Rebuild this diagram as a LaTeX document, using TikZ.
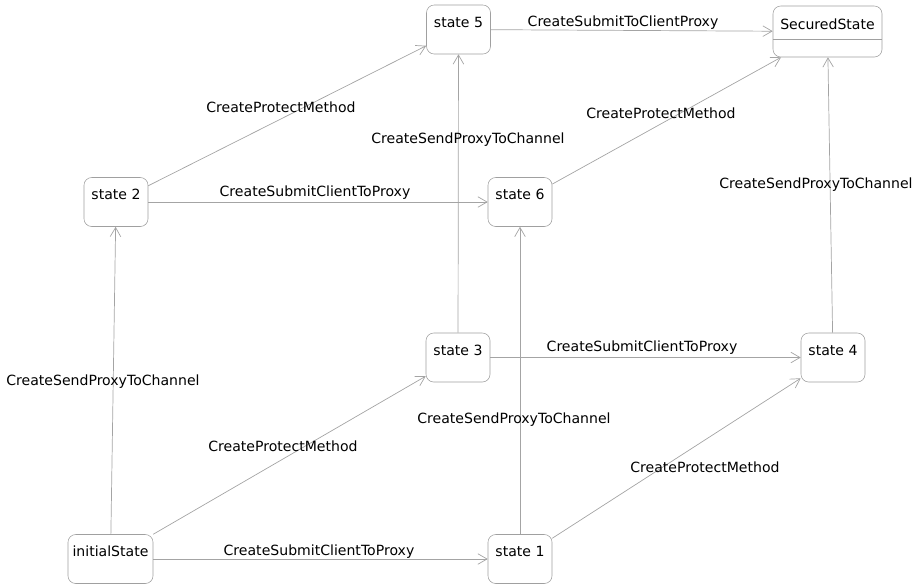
\documentclass[tikz,border=0pt]{standalone}
\usepackage{fontspec}
\setmainfont{DejaVu Sans}
\usepackage{tikz}
\usetikzlibrary{calc}
\usetikzlibrary{arrows.meta}

\definecolor{boxgray}{HTML}{A0A0A0}
\definecolor{edgegray}{HTML}{A4A4A4}

\begin{document}
\begin{tikzpicture}[x=0.025cm,y=-0.025cm,
    state/.style={draw=boxgray,rounded corners=5.5pt,inner sep=0pt,minimum width=1.6cm,
        text height=0.55cm,text depth=0.675cm,font=\fontsize{10}{12}\selectfont},
    edge/.style={draw=edgegray,line width=0.5pt,-{Straight Barb[length=6.5pt,width=7.5pt]}},
    lbl/.style={inner sep=0pt,font=\fontsize{10}{12}\selectfont}]
            \useasboundingbox (0,0) rectangle (920,587);

            % Draw the states
            \node[state,minimum width=2.125cm] (init) at (110.5,559) {initialState};
            \node[state] (s1) at (520,559) {state 1};
            \node[state] (s2) at (116,202) {state 2};
            \node[state] (s3) at (458,357.5) {state 3};
            \node[state] (s4) at (833,357.5) {state 4};
            \node[state] (s5) at (458.5,29.5) {state 5};
            \node[state] (s6) at (520,202) {state 6};
            \node[state,minimum width=2.725cm,text height=0.575cm,text depth=0.7cm] (sec) at (827.5,31.5) {SecuredState};
            \draw[boxgray] ($(sec.north west)+(0,34)$) -- ($(sec.north east)+(0,34)$);

            % Draw the transitions
            \draw[edge] (init) -- (s1);
            \draw[edge] (init) -- (s2);
            \draw[edge] (init) -- (s3);
            \draw[edge] (s1) -- (s6);
            \draw[edge] (s1) -- (s4);
            \draw[edge] (s3) -- (s4);
            \draw[edge] (s3) -- (s5);
            \draw[edge] (s2) -- (s5);
            \draw[edge] (s2) -- (s6);
            \draw[edge] (s6) -- (sec);
            \draw[edge] (s4) -- (sec);
            \draw[edge] (s5) -- (sec);

            % Draw the transition labels
            \node[lbl] (l1) at (319,552) {CreateSubmitClientToProxy};
            \node[lbl] (l2) at (103,382) {CreateSendProxyToChannel};
            \node[lbl] (l3) at (283,446) {CreateProtectMethod};
            \node[lbl] (l4) at (514,420) {CreateSendProxyToChannel};
            \node[lbl] (l5) at (705,467) {CreateProtectMethod};
            \node[lbl] (l6) at (642,348) {CreateSubmitClientToProxy};
            \node[lbl] (l7) at (468,140) {CreateSendProxyToChannel};
            \node[lbl] (l8) at (281,107) {CreateProtectMethod};
            \node[lbl] (l9) at (315,193) {CreateSubmitClientToProxy};
            \node[lbl] (l10) at (661,113) {CreateProtectMethod};
            \node[lbl] (l11) at (816,185) {CreateSendProxyToChannel};
            \node[lbl] (l12) at (623,23) {CreateSubmitToClientProxy};

        \end{tikzpicture}
\end{document}
